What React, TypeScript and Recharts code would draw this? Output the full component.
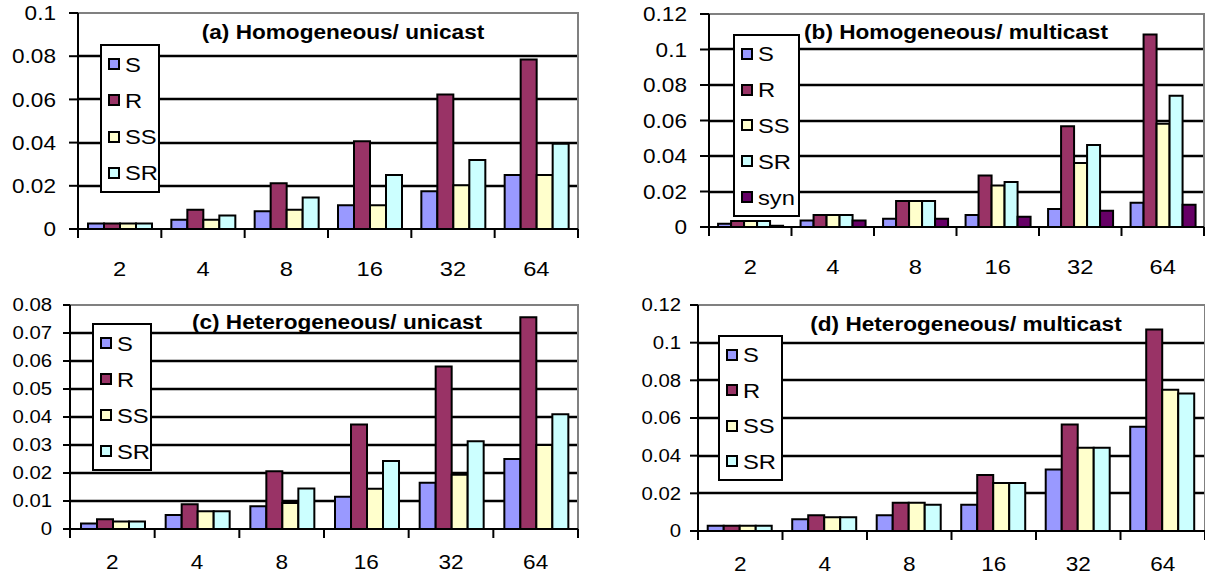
import React from "react"
import { Bar, BarChart, CartesianGrid, ReferenceArea, XAxis, YAxis } from "recharts"

const categories = ["2", "4", "8", "16", "32", "64"]

const seriesColors: Record<string, string> = {
  S: "#9999ff",
  R: "#993366",
  SS: "#ffffcc",
  SR: "#ccffff",
  syn: "#660066",
}

// (a) Homogeneous / unicast
const homUniS = [0.0025, 0.0043, 0.0082, 0.011, 0.0175, 0.025]
const homUniR = [0.0025, 0.0089, 0.0212, 0.0406, 0.0623, 0.0785]
const homUniSS = [0.0025, 0.0043, 0.0089, 0.011, 0.0203, 0.025]
const homUniSR = [0.0025, 0.0062, 0.0146, 0.025, 0.032, 0.0395]

// (b) Homogeneous / multicast
const homMultiS = [0.0019, 0.0037, 0.0047, 0.0067, 0.0101, 0.0136]
const homMultiR = [0.0034, 0.0067, 0.0146, 0.029, 0.0568, 0.1084]
const homMultiSS = [0.0034, 0.0067, 0.0146, 0.0234, 0.036, 0.0581]
const homMultiSR = [0.0034, 0.0067, 0.0146, 0.0254, 0.0462, 0.074]
const homMultiSyn = [0.0007, 0.0037, 0.0047, 0.0058, 0.0092, 0.0125]

// (c) Heterogeneous / unicast
const hetUniS = [0.002, 0.005, 0.0081, 0.0115, 0.0165, 0.025]
const hetUniR = [0.0035, 0.0088, 0.0206, 0.0373, 0.058, 0.0756]
const hetUniSS = [0.0027, 0.0063, 0.0093, 0.0144, 0.0194, 0.03]
const hetUniSR = [0.0027, 0.0063, 0.0145, 0.0243, 0.0313, 0.041]

// (d) Heterogeneous / multicast
const hetMultiS = [0.0028, 0.0062, 0.0083, 0.014, 0.0327, 0.0554]
const hetMultiR = [0.0028, 0.0083, 0.015, 0.0297, 0.0565, 0.107]
const hetMultiSS = [0.0028, 0.0073, 0.015, 0.0255, 0.0442, 0.075]
const hetMultiSR = [0.0028, 0.0073, 0.014, 0.0255, 0.0442, 0.073]

const ticksA = [0, 0.02, 0.04, 0.06, 0.08, 0.1]
const ticksB = [0, 0.02, 0.04, 0.06, 0.08, 0.1, 0.12]
const ticksC = [0, 0.01, 0.02, 0.03, 0.04, 0.05, 0.06, 0.07, 0.08]
const ticksD = [0, 0.02, 0.04, 0.06, 0.08, 0.1, 0.12]

const FONT = "'Liberation Sans', Arial, sans-serif"
const STRETCH = 1.13

function buildRows(series: Record<string, number[]>) {
  return categories.map((cat, i) => {
    const row: Record<string, any> = { cat }
    Object.keys(series).forEach((k) => (row[k] = series[k][i]))
    return row
  })
}

const YTick = ({ x, y, payload, fontSize }: any) => (
  <text
    transform={`translate(${x},${y}) scale(${STRETCH},1)`}
    textAnchor="end"
    dy="0.355em"
    fontSize={fontSize}
    fontFamily={FONT}
    fill="#000"
  >
    {String(payload.value)}
  </text>
)

const XTick = ({ x, y, payload, index, bw, fontSize, labelDy }: any) => (
  <g>
    <line x1={x - bw / 2} x2={x - bw / 2} y1={y} y2={y + 9} stroke="#000" strokeWidth={2} />
    {index === categories.length - 1 && (
      <line x1={x + bw / 2} x2={x + bw / 2} y1={y} y2={y + 9} stroke="#000" strokeWidth={2} />
    )}
    <text
      transform={`translate(${x},${y + labelDy}) scale(${STRETCH},1)`}
      textAnchor="middle"
      dy="0.355em"
      fontSize={fontSize}
      fontFamily={FONT}
      fill="#000"
    >
      {payload.value}
    </text>
  </g>
)

const GridLine = (g: any) => {
  const yy = Math.round(g.y1)
  return <line key={g.key} x1={g.x1} x2={g.x2} y1={yy} y2={yy} stroke="#000" strokeWidth={2.5} />
}

type PanelProps = {
  left: number
  top: number
  width: number
  height: number
  marginTop: number
  marginRight: number
  yw: number
  xh: number
  ticks: number[]
  series: Record<string, number[]>
  yFont: number
  xFont: number
  tickSize: number
  tickMargin: number
  labelDy: number
  gap: string
  title: string
  titleX: number
  titleY: number
  legend: { x: number; y: number; w: number; h: number }
}

function Panel(p: PanelProps) {
  const data = buildRows(p.series)
  const keys = Object.keys(p.series)
  const max = p.ticks[p.ticks.length - 1]
  const bw = (p.width - p.yw - p.marginRight) / categories.length
  const rowH = (p.legend.h - 4) / keys.length

  return (
    <>
      <div style={{ position: "absolute", left: p.left, top: p.top }}>
        <BarChart
          width={p.width}
          height={p.height}
          data={data}
          margin={{ top: p.marginTop, right: p.marginRight, left: 0, bottom: 0 }}
          barCategoryGap={p.gap}
          barGap={0}
        >
          <CartesianGrid
            vertical={false}
            horizontal={GridLine}
            horizontalValues={p.ticks.filter((t) => t > 0 && t < max)}
          />
          <ReferenceArea y1={0} y2={max} fill="none" stroke="#808080" strokeWidth={2} ifOverflow="visible" />
          {keys.map((k) => (
            <Bar
              key={k}
              dataKey={k}
              fill={seriesColors[k]}
              stroke="#000"
              strokeWidth={2}
              isAnimationActive={false}
            />
          ))}
          <XAxis
            dataKey="cat"
            height={p.xh}
            interval={0}
            axisLine={{ stroke: "#000", strokeWidth: 2 }}
            tickLine={false}
            tickSize={0}
            tickMargin={0}
            tick={(t: any) => <XTick {...t} bw={bw} fontSize={p.xFont} labelDy={p.labelDy} />}
          />
          <YAxis
            type="number"
            width={p.yw}
            domain={[0, max]}
            ticks={p.ticks}
            interval={0}
            axisLine={{ stroke: "#000", strokeWidth: 2 }}
            tickLine={{ stroke: "#000", strokeWidth: 2 }}
            tickSize={p.tickSize}
            tickMargin={p.tickMargin}
            tick={(t: any) => <YTick {...t} fontSize={p.yFont} />}
          />
        </BarChart>
      </div>
      <div
        style={{
          position: "absolute",
          left: p.titleX,
          top: p.titleY,
          transform: `translate(-50%, -50%) scaleX(${STRETCH})`,
          whiteSpace: "nowrap",
          fontFamily: FONT,
          fontWeight: "bold",
          fontSize: 20,
          lineHeight: "20px",
        }}
      >
        {p.title}
      </div>
      <div
        style={{
          position: "absolute",
          left: p.legend.x,
          top: p.legend.y,
          width: p.legend.w,
          height: p.legend.h,
          boxSizing: "border-box",
          border: "2px solid #000",
          background: "#fff",
          paddingLeft: 6,
        }}
      >
        {keys.map((k) => (
          <div key={k} style={{ height: rowH, display: "flex", alignItems: "center" }}>
            <span
              style={{
                display: "inline-block",
                width: 12,
                height: 12,
                boxSizing: "border-box",
                border: "2px solid #000",
                background: seriesColors[k],
                marginRight: 5,
              }}
            />
            <span
              style={{
                fontFamily: FONT,
                fontSize: 21,
                lineHeight: "21px",
                display: "inline-block",
                transform: `scaleX(${STRETCH})`,
                transformOrigin: "left center",
              }}
            >
              {k}
            </span>
          </div>
        ))}
      </div>
    </>
  )
}

export default function App() {
  return (
    <div
      style={{
        position: "absolute",
        left: 0,
        top: 0,
        width: 1205,
        height: 577,
        background: "#fff",
        overflow: "hidden",
      }}
    >
      <Panel
        left={0}
        top={0}
        width={590}
        height={285}
        marginTop={13}
        marginRight={12}
        yw={78}
        xh={56}
        ticks={ticksA}
        series={{ S: homUniS, R: homUniR, SS: homUniSS, SR: homUniSR }}
        yFont={20}
        xFont={21}
        tickSize={9}
        tickMargin={13}
        labelDy={40}
        gap="12%"
        title="(a) Homogeneous/ unicast"
        titleX={343}
        titleY={32}
        legend={{ x: 100, y: 44, w: 60, h: 149 }}
      />
      <Panel
        left={600}
        top={0}
        width={605}
        height={285}
        marginTop={14}
        marginRight={1}
        yw={109}
        xh={58}
        ticks={ticksB}
        series={{ S: homMultiS, R: homMultiR, SS: homMultiSS, SR: homMultiSR, syn: homMultiSyn }}
        yFont={20}
        xFont={21}
        tickSize={9}
        tickMargin={13}
        labelDy={40}
        gap="11%"
        title="(b) Homogeneous/ multicast"
        titleX={956}
        titleY={32}
        legend={{ x: 733, y: 34, w: 67, h: 183 }}
      />
      <Panel
        left={0}
        top={290}
        width={590}
        height={287}
        marginTop={15}
        marginRight={12}
        yw={70}
        xh={48}
        ticks={ticksC}
        series={{ S: hetUniS, R: hetUniR, SS: hetUniSS, SR: hetUniSR }}
        yFont={18}
        xFont={20}
        tickSize={7}
        tickMargin={11}
        labelDy={33}
        gap="13%"
        title="(c) Heterogeneous/ unicast"
        titleX={337}
        titleY={322}
        legend={{ x: 92, y: 323, w: 60, h: 148 }}
      />
      <Panel
        left={600}
        top={290}
        width={605}
        height={287}
        marginTop={15}
        marginRight={0}
        yw={98}
        xh={46}
        ticks={ticksD}
        series={{ S: hetMultiS, R: hetMultiR, SS: hetMultiSS, SR: hetMultiSR }}
        yFont={18}
        xFont={20}
        tickSize={8}
        tickMargin={9}
        labelDy={33}
        gap="11.5%"
        title="(d) Heterogeneous/ multicast"
        titleX={966}
        titleY={324}
        legend={{ x: 718, y: 335, w: 65, h: 146 }}
      />
    </div>
  )
}
